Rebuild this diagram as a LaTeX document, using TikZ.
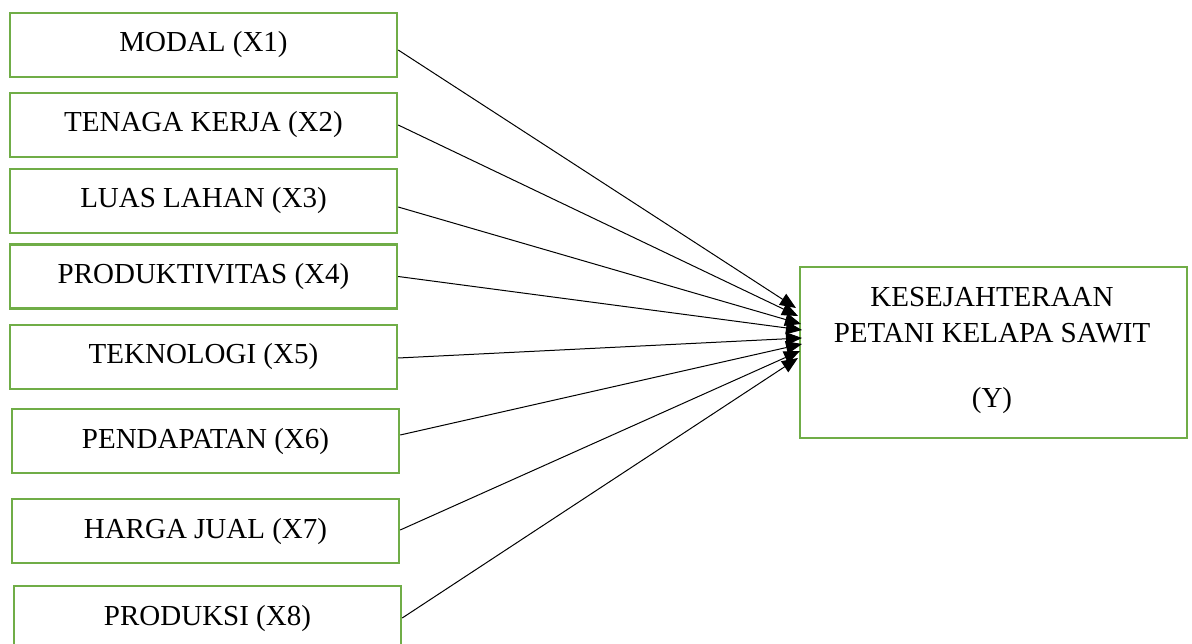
\documentclass[tikz,border=0pt]{standalone}
\usepackage{fontspec}
\setmainfont{Liberation Serif}
\usetikzlibrary{arrows.meta}
\definecolor{boxgreen}{HTML}{70AD47}
\tikzset{
  varbox/.style={draw=boxgreen, line width=2.4pt, minimum width=387pt, minimum height=64pt, inner sep=0pt},
  ybox/.style={draw=boxgreen, line width=2.4pt, minimum width=387pt, minimum height=171pt, inner sep=0pt},
  lbl/.style={anchor=base, inner sep=0pt, font=\fontsize{29}{34}\selectfont},
  link/.style={black, line width=1pt, -{Triangle[length=16pt,width=13pt]}}
}
\begin{document}
\begin{tikzpicture}[x=1pt,y=-1pt]
\clip (0,0) rectangle (1192,644);
\fill[white] (0,0) rectangle (1192,644);

% independent variables
\node[varbox] (x1) at (203.5,45) {};
\node[varbox] (x2) at (203.5,125) {};
\node[varbox] (x3) at (203.5,201) {};
\node[varbox] (x4) at (203.5,276.5) {};
\node[varbox] (x5) at (203.5,357) {};
\node[varbox] (x6) at (205.5,441) {};
\node[varbox] (x7) at (205.5,531) {};
\node[varbox] (x8) at (207.5,618) {};

\node[lbl] (t1) at (203.5,52) {MODAL (X1)};
\node[lbl] (t2) at (203.5,132) {TENAGA KERJA (X2)};
\node[lbl] (t3) at (203.5,208) {LUAS LAHAN (X3)};
\node[lbl] (t4) at (203.5,283.5) {PRODUKTIVITAS (X4)};
\node[lbl] (t5) at (203.5,364) {TEKNOLOGI (X5)};
\node[lbl] (t6) at (205.5,448) {PENDAPATAN (X6)};
\node[lbl] (t7) at (205.5,538) {HARGA JUAL (X7)};
\node[lbl] (t8) at (207.5,625) {PRODUKSI (X8)};

% dependent variable
\node[ybox] (y) at (993.5,352.5) {};
\node[lbl] (ty1) at (992,307) {KESEJAHTERAAN};
\node[lbl] (ty2) at (992,343) {PETANI KELAPA SAWIT};
\node[lbl] (ty3) at (992,407) {(Y)};

% arrow targets along the left side of the Y box
\coordinate (e1) at (796,308);
\coordinate (e2) at (798,316);
\coordinate (e3) at (801,324);
\coordinate (e4) at (802,330);
\coordinate (e5) at (802,338);
\coordinate (e6) at (802,344);
\coordinate (e7) at (800,351);
\coordinate (e8) at (798,358);

\draw[link] ([yshift=-5pt]x1.east) -- (e1);
\draw[link] (x2.east) -- (e2);
\draw[link] ([yshift=-6pt]x3.east) -- (e3);
\draw[link] (x4.east) -- (e4);
\draw[link] ([yshift=-1pt]x5.east) -- (e5);
\draw[link] ([yshift=6pt]x6.east) -- (e6);
\draw[link] ([yshift=1pt]x7.east) -- (e7);
\draw[link] (x8.east) -- (e8);
\end{tikzpicture}
\end{document}
